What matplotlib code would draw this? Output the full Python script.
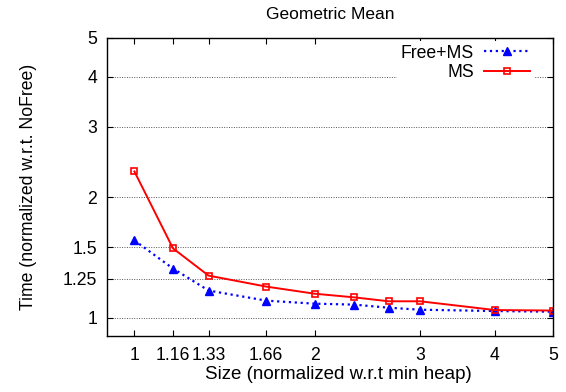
import matplotlib
matplotlib.use("Agg")
import matplotlib.pyplot as plt
from matplotlib.ticker import FixedLocator, FixedFormatter, NullLocator

plt.rcParams['font.family'] = ['Liberation Sans', 'DejaVu Sans']

# Data
sizes = [1, 1.16, 1.33, 1.66, 2, 2.33, 2.66, 3, 4, 5]
free_ms = [1.56, 1.327, 1.169, 1.103, 1.084, 1.078, 1.059, 1.047, 1.039, 1.035]
ms = [2.32, 1.49, 1.274, 1.196, 1.148, 1.124, 1.099, 1.099, 1.045, 1.042]

x_ticks = [1, 1.16, 1.33, 1.66, 2, 3, 4, 5]
x_labels = ['1', '1.16', '1.33', '1.66', '2', '3', '4', '5']
y_ticks = [1, 1.25, 1.5, 2, 3, 4, 5]
y_labels = ['1', '1.25', '1.5', '2', '3', '4', '5']

fs = 12.7

fig = plt.figure(figsize=(5.66, 3.92), dpi=100)
ax = fig.add_axes([107 / 566, 1 - 336 / 392, (553 - 107) / 566, (336 - 38) / 392])

ax.plot(sizes, free_ms, color='blue', linestyle=':', linewidth=1.6,
        marker='^', markersize=6, label='Free+MS')
ax.plot(sizes, ms, color='red', linestyle='-', linewidth=1.4,
        marker='s', markersize=5, markerfacecolor='none', markeredgewidth=1.2,
        label='MS')

ax.set_xscale('log')
ax.set_yscale('log')
ax.set_xlim(0.9, 5)
ax.set_ylim(0.9, 5)

ax.xaxis.set_major_locator(FixedLocator(x_ticks))
ax.xaxis.set_major_formatter(FixedFormatter(x_labels))
ax.xaxis.set_minor_locator(NullLocator())
ax.yaxis.set_major_locator(FixedLocator(y_ticks))
ax.yaxis.set_major_formatter(FixedFormatter(y_labels))
ax.yaxis.set_minor_locator(NullLocator())

ax.tick_params(direction='in', top=True, right=True, length=4, width=0.8,
               labelsize=fs)
ax.tick_params(axis='x', pad=8)
ax.tick_params(axis='y', pad=7)
ax.yaxis.grid(True, linestyle=(0, (1, 1.5)), color='#555555', linewidth=0.7)
for s in ax.spines.values():
    s.set_linewidth(1.0)

ax.set_title('Geometric Mean', fontsize=12.5, pad=14)
ax.set_xlabel('Size (normalized w.r.t min heap)', fontsize=13.5)
ax.xaxis.set_label_coords((338 - 107) / 446, -0.1)
ax.set_ylabel('Time (normalized w.r.t. NoFree)', fontsize=fs)
ax.yaxis.set_label_coords(-0.158, 0.5)

leg = ax.legend(loc='upper right', bbox_to_anchor=(0.957, 0.99),
                markerfirst=False, frameon=True,
                fontsize=fs, handlelength=2.6, borderaxespad=0.0,
                borderpad=0.2, handletextpad=0.6, labelspacing=0.15,
                fancybox=False)
leg.get_frame().set_edgecolor('none')
leg.get_frame().set_facecolor('white')
leg.get_frame().set_alpha(1)

fig.savefig('out.png', dpi=100)
